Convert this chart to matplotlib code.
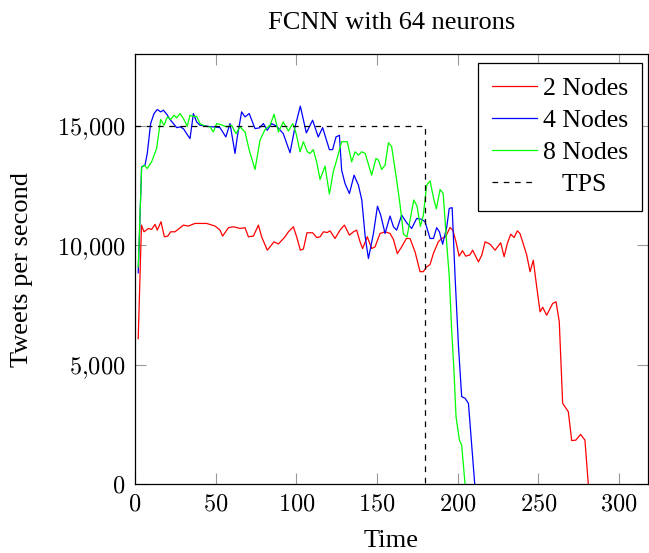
import matplotlib
matplotlib.use('Agg')
import matplotlib.pyplot as plt
from matplotlib.ticker import FuncFormatter

plt.rcParams['mathtext.fontset'] = 'cm'
plt.rcParams['font.family'] = ['Liberation Serif', 'DejaVu Serif']

# ---- data ----
t_2nodes = [2, 4, 5.6, 8.3, 10.3, 12.4, 13.8, 16.1, 18.2, 20.3, 22.1, 24.8, 30, 33, 37.2, 44.4,
            49.6, 52.7, 54.3, 57.9, 61, 65.1, 68.2, 70.3, 73.4, 76.5, 78.5, 82, 86.2, 88.9, 93,
            95.1, 98.2, 100.2, 102.5, 104.4, 106.6, 110.1, 112.6, 114.7, 116.8, 119.2, 120.9, 124,
            127.1, 129.8, 132.9, 135.4, 137.4, 139.5, 141.1, 144, 146.7, 148.8, 151.9, 155, 158.1,
            160.2, 162.6, 165.3, 168.2, 170.5, 173.6, 176.7, 178.7, 180.8, 182.9, 185, 188, 190,
            192.5, 195.3, 197, 199, 200.9, 203, 205, 207.5, 209.3, 212.9, 215, 217, 220.1, 223.2,
            226.7, 228.8, 230.8, 232.9, 235, 237, 238.6, 240.3, 242.8, 244.9, 246.9, 249, 251.1,
            252.7, 255.2, 258.9, 261, 263, 265.1, 268.6, 270.7, 273.3, 276.2, 278.9, 281]
v_2nodes = [6100, 10850, 10570, 10710, 10670, 10880, 10640, 10990, 10360, 10390, 10570, 10570,
            10850, 10810, 10920, 10920, 10810, 10640, 10390, 10740, 10780, 10710, 10740, 10360,
            10390, 10850, 10360, 9800, 10150, 10060, 10360, 10570, 10780, 10360, 9800, 9850, 10530,
            10530, 10330, 10360, 10570, 10540, 10610, 10290, 10640, 10850, 10430, 10570, 10640,
            10150, 9870, 10360, 9870, 9940, 10500, 10570, 10500, 10250, 9660, 9940, 10290, 10290,
            9730, 8900, 8900, 9100, 9200, 9670, 10150, 10290, 10360, 10750, 10640, 10150, 9550,
            9780, 9550, 9600, 9800, 9310, 9600, 10150, 10050, 9800, 10110, 9525, 10080, 10470,
            10330, 10610, 10500, 10150, 9600, 8900, 9380, 8270, 7220, 7410, 7080, 7570, 7640, 6800,
            3390, 3040, 1830, 1850, 2090, 1850, 0]

t_4nodes = [2, 4.1, 6.2, 7.6, 9.7, 11.8, 13.8, 15.9, 17.6, 19.7, 21.7, 23.8, 25.8, 27.9, 30, 32,
            34.1, 36.2, 38.2, 40.3, 44.4, 48.6, 52.7, 56.3, 58.9, 62, 63.4, 66.1, 68.2, 70.8, 74.4,
            77.1, 79.6, 82, 84.7, 87.8, 91.9, 96.1, 99.2, 102.5, 106.2, 110.1, 113.6, 116.3, 120.5,
            122.5, 124.6, 126.7, 128.1, 130.2, 132.9, 135.8, 138.5, 140.6, 142.7, 144.7, 147.8,
            150.3, 152.3, 155, 158.1, 160.2, 162.2, 165.3, 168.4, 171.5, 174.6, 177.7, 179.8, 182.9,
            185, 187, 188.7, 190.7, 193.2, 194.8, 196.6, 198.4, 200.5, 202.5, 204.6, 206.7, 210.6]
v_4nodes = [8850, 13290, 13360, 13850, 15100, 15520, 15690, 15590, 15660, 15490, 15270, 15100,
            14930, 14960, 14890, 14680, 14470, 15520, 15170, 15030, 14990, 14960, 14930, 14540,
            15100, 13850, 14540, 15590, 15380, 15520, 14890, 14920, 15100, 14820, 15100, 14990,
            14680, 13880, 14960, 15830, 14710, 15240, 14540, 14930, 14010, 14010, 14540, 14610,
            13150, 12590, 12170, 12940, 12520, 11900, 10360, 9450, 10500, 11640, 11270, 10500,
            11230, 10780, 10640, 11270, 10950, 10710, 11130, 11090, 10990, 10290, 10290, 10740,
            10570, 10050, 10750, 11550, 11580, 8700, 5800, 3670, 3600, 3390, 0]

t_8nodes = [2, 4.1, 5.6, 7.6, 10.3, 13.4, 15.9, 18, 20.1, 22.1, 24.2, 25.8, 27.9, 30, 32.4, 34.1,
            36.2, 38.2, 40.3, 43.4, 46.5, 48.6, 50.6, 53.1, 56.8, 59.9, 62.6, 65.1, 68.2, 70.8,
            74.4, 77.5, 80.6, 83.7, 86.2, 88.9, 91.9, 95.1, 97.8, 99.9, 102.3, 104.4, 106.8, 108.5,
            110.5, 112.6, 114.7, 117.8, 120.5, 122.9, 125, 128.1, 131.6, 134.3, 136.4, 138.5, 140.6,
            142.7, 146.7, 149.4, 150.9, 152.9, 155, 157.1, 159.1, 162.2, 164.3, 166.4, 168.6, 170.9,
            172.8, 174.8, 176.9, 178.7, 180.8, 182.9, 185.2, 186.8, 189.1, 191, 193.2, 194.8, 196.3,
            197.7, 199, 201.1, 202.5, 204.6]
v_8nodes = [9100, 13260, 13360, 13220, 13500, 14060, 15270, 15030, 15380, 15270, 15450, 15340,
            15520, 15310, 14990, 15450, 15400, 15400, 15100, 14990, 14960, 14750, 15100, 15060,
            14960, 15030, 14680, 14960, 14750, 13990, 13180, 14410, 14850, 15030, 15490, 14750,
            15170, 14790, 15100, 14680, 13920, 14340, 13920, 13850, 14010, 13500, 12760, 13320,
            12150, 13080, 13570, 14340, 14340, 13500, 13920, 13780, 13920, 13850, 12940, 13640,
            13570, 13180, 13360, 14300, 14130, 12730, 11700, 10470, 10360, 11200, 11900, 11650,
            10800, 11250, 12520, 12700, 11940, 11530, 12340, 12180, 10100, 8690, 6460, 4780, 2830,
            1850, 1640, 0]

t_tps = [0, 180, 180]
v_tps = [15000, 15000, 0]

series_labels = ['2 Nodes', '4 Nodes', '8 Nodes', '   TPS']
x_ticks = [0, 50, 100, 150, 200, 250, 300]
y_ticks = [0, 5000, 10000, 15000]

# ---- figure ----
W, H = 649, 553
fig = plt.figure(figsize=(W / 100, H / 100), dpi=100)
ax = fig.add_axes([135 / W, 1 - 484.3 / H, 513 / W, 430 / H])

ax.plot(t_2nodes, v_2nodes, color=(1, 0, 0), lw=0.9, label=series_labels[0])
ax.plot(t_4nodes, v_4nodes, color=(0, 0, 1), lw=0.9, label=series_labels[1])
ax.plot(t_8nodes, v_8nodes, color=(0, 1, 0), lw=0.9, label=series_labels[2])
ax.plot(t_tps, v_tps, color='black', lw=0.9, dashes=(4.5, 4.5), label=series_labels[3])

ax.set_xlim(0, 318)
ax.set_ylim(0, 18000)
ax.set_xticks(x_ticks)
ax.set_yticks(y_ticks)
ax.xaxis.set_major_formatter(FuncFormatter(lambda v, p: f'${int(v)}$'))
ax.yaxis.set_major_formatter(
    FuncFormatter(lambda v, p: '$' + f'{int(v):,}'.replace(',', '{,}') + '$'))
ax.tick_params(direction='in', length=8, width=0.8, color='0.6',
               top=True, right=True, labelsize=17.5, pad=7)
for s in ax.spines.values():
    s.set_linewidth(0.9)
    s.set_color('black')

ax.set_title('FCNN with 64 neurons', fontsize=19, pad=18.5)
ax.set_xlabel('Time', fontsize=19)
ax.set_ylabel('Tweets per second', fontsize=19)
ax.xaxis.set_label_coords(0.5, -0.107)
ax.yaxis.set_label_coords(-0.199, 0.5)

leg = ax.legend(loc='upper right', bbox_to_anchor=(0.989, 0.979), fontsize=18.5,
                frameon=True, fancybox=False, edgecolor='black', framealpha=1,
                borderaxespad=0, handlelength=1.75, handletextpad=0.25,
                labelspacing=0.35, borderpad=0.55)
leg.get_frame().set_linewidth(0.9)

fig.savefig('out.png', dpi=100)
